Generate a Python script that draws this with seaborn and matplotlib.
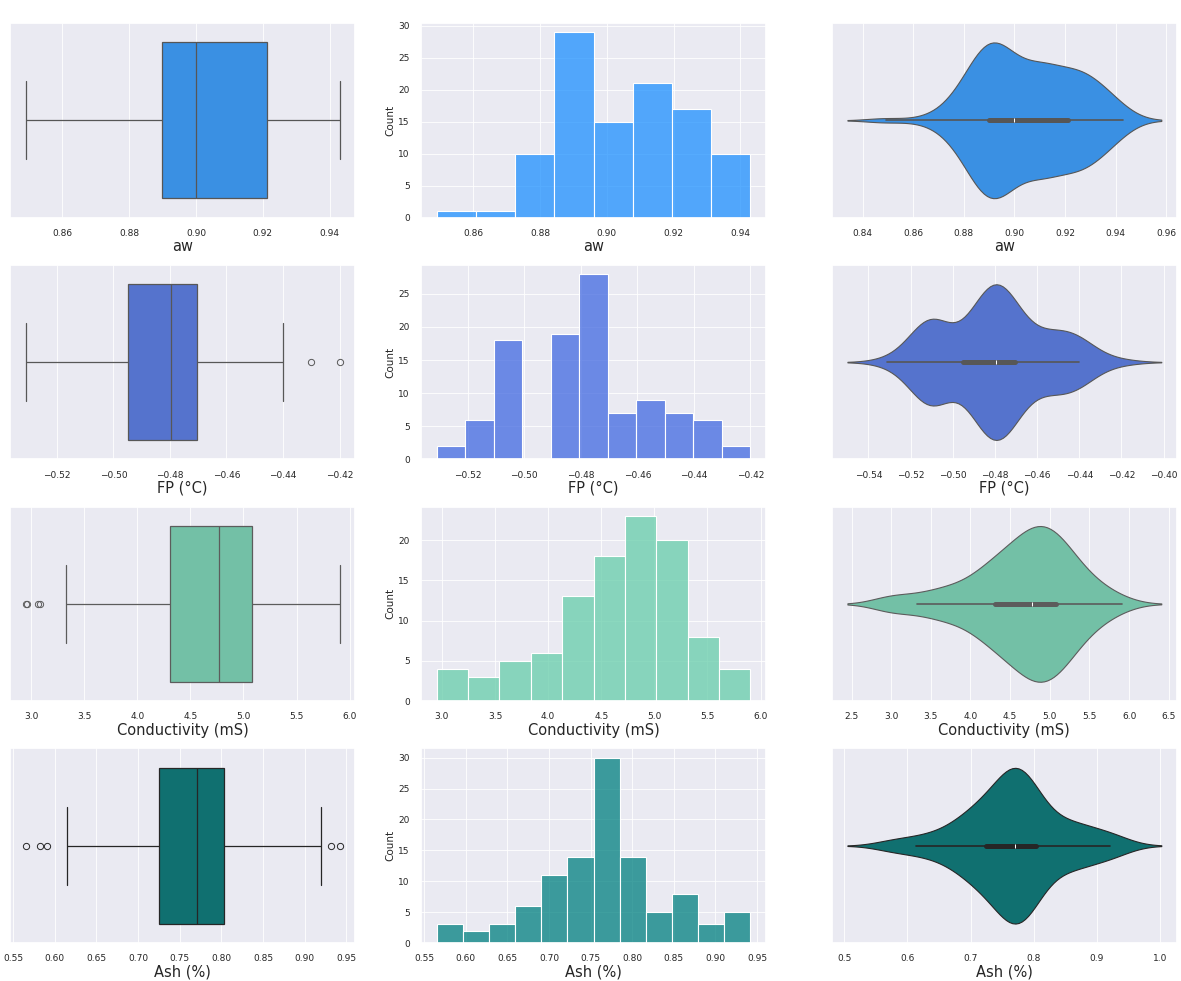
import matplotlib
matplotlib.use("Agg")
import matplotlib.pyplot as plt
import seaborn as sns

# Water activity measurements
aw = [
    0.849, 0.866,
    0.873, 0.875, 0.877, 0.878, 0.879, 0.880, 0.881, 0.882, 0.883, 0.884,
    0.885, 0.885, 0.886, 0.886, 0.887, 0.887, 0.887, 0.888, 0.888, 0.888,
    0.889, 0.889, 0.889, 0.889, 0.890, 0.890, 0.890, 0.891, 0.891, 0.892,
    0.892, 0.892, 0.893, 0.893, 0.893, 0.894, 0.894, 0.895, 0.895,
    0.8965, 0.897, 0.8975, 0.898, 0.8985, 0.899, 0.8995, 0.8995, 0.900, 0.900,
    0.900, 0.900, 0.903, 0.905, 0.907,
    0.908, 0.908, 0.909, 0.909, 0.909, 0.910, 0.910, 0.910, 0.911, 0.911,
    0.911, 0.912, 0.912, 0.913, 0.913, 0.914, 0.915, 0.916, 0.917, 0.918, 0.919,
    0.921, 0.922, 0.922, 0.923, 0.923, 0.924, 0.924, 0.925, 0.925, 0.926,
    0.926, 0.927, 0.927, 0.928, 0.929, 0.930, 0.931,
    0.932, 0.933, 0.934, 0.935, 0.936, 0.937, 0.938, 0.939, 0.941, 0.943,
]

# Freezing point (°C)
fp = [
    -0.531, -0.524,
    -0.519, -0.517, -0.516, -0.514, -0.513, -0.512,
    -0.5105, -0.510, -0.510, -0.510, -0.510, -0.5095, -0.5095, -0.5095,
    -0.509, -0.509, -0.509, -0.509, -0.5085, -0.5085, -0.5085,
    -0.508, -0.508, -0.508,
    -0.4905, -0.4905, -0.490, -0.490, -0.4895, -0.4895, -0.489, -0.489,
    -0.488, -0.488, -0.487, -0.487, -0.486, -0.486, -0.485, -0.484, -0.483,
    -0.482, -0.481,
    -0.480, -0.480, -0.480, -0.480, -0.480, -0.4798, -0.4797, -0.4796,
    -0.479, -0.479, -0.479, -0.479, -0.478, -0.478, -0.478, -0.477, -0.477,
    -0.477, -0.476, -0.476, -0.476, -0.475, -0.475, -0.474, -0.474, -0.473,
    -0.472, -0.471,
    -0.4704, -0.4704, -0.4703, -0.4703, -0.4703, -0.4703, -0.462,
    -0.460, -0.459, -0.458, -0.457, -0.456, -0.455, -0.454, -0.453, -0.451,
    -0.450, -0.449, -0.447, -0.446, -0.444, -0.443, -0.441,
    -0.440, -0.440, -0.440, -0.440, -0.4399, -0.4399,
    -0.430, -0.420,
]

# Electrical conductivity (mS)
conductivity = [
    2.95, 2.96, 3.07, 3.08,
    3.33, 3.42, 3.50,
    3.58, 3.64, 3.70, 3.75, 3.80,
    3.87, 3.93, 3.98, 4.03, 4.08, 4.12,
    4.15, 4.18, 4.21, 4.23, 4.25, 4.27, 4.29, 4.30, 4.31, 4.34, 4.37, 4.39, 4.42,
    4.44, 4.46, 4.48, 4.50, 4.52, 4.54, 4.56, 4.58, 4.60, 4.61, 4.63, 4.64,
    4.66, 4.67, 4.68, 4.70, 4.71, 4.72,
    4.74, 4.76, 4.77, 4.77, 4.78, 4.80, 4.81, 4.82, 4.84, 4.85, 4.86, 4.87,
    4.88, 4.90, 4.91, 4.92, 4.94, 4.95, 4.96, 4.98, 4.99, 5.00, 5.01,
    5.03, 5.04, 5.05, 5.06, 5.07, 5.08, 5.08, 5.10, 5.12, 5.13, 5.15, 5.17,
    5.18, 5.20, 5.22, 5.23, 5.25, 5.27, 5.29, 5.31,
    5.34, 5.38, 5.42, 5.45, 5.49, 5.52, 5.55, 5.59,
    5.66, 5.74, 5.83, 5.905,
]

# Ash content (%)
ash = [
    0.565, 0.582, 0.590,
    0.614, 0.622,
    0.632, 0.641, 0.652,
    0.662, 0.668, 0.673, 0.678, 0.683, 0.688,
    0.692, 0.695, 0.698, 0.701, 0.704, 0.707, 0.710, 0.713, 0.715, 0.718, 0.720,
    0.723, 0.725, 0.728, 0.730, 0.733, 0.735, 0.738, 0.740, 0.742, 0.744,
    0.746, 0.748, 0.750, 0.752,
    0.754, 0.756, 0.758, 0.760, 0.762, 0.763, 0.764, 0.765, 0.766, 0.767,
    0.768, 0.769, 0.770, 0.771, 0.772, 0.773, 0.774, 0.775, 0.776, 0.777,
    0.778, 0.779, 0.780, 0.780, 0.781, 0.782, 0.782, 0.783, 0.784, 0.784,
    0.786, 0.788, 0.790, 0.792, 0.794, 0.796, 0.798, 0.801, 0.803, 0.805,
    0.808, 0.810, 0.812, 0.815,
    0.820, 0.826, 0.833, 0.839, 0.845,
    0.850, 0.854, 0.858, 0.862, 0.866, 0.870, 0.873, 0.877,
    0.885, 0.895, 0.905,
    0.913, 0.917, 0.920, 0.932, 0.942,
]

variables = [aw, fp, conductivity, ash]
labels = ["aw", "FP (°C)", "Conductivity (mS)", "Ash (%)"]
colors = ["dodgerblue", "royalblue", "mediumaquamarine", "teal"]
hist_bins = [8, 11, 10, 12]

sns.set_theme(style="darkgrid", rc={"grid.linewidth": 0.6})
plt.rcParams["font.family"] = ["DejaVu Sans"]

fig, axes = plt.subplots(4, 3, figsize=(11.81, 9.81), dpi=100)
fig.subplots_adjust(left=0.0085, right=0.9966, bottom=0.0387, top=0.9766,
                    wspace=0.19, hspace=0.242)

TICK_SIZE = 6.5
XLABEL_SIZE = 10.5
YLABEL_SIZE = 7.5

for row, (values, label, color, nbins) in enumerate(zip(variables, labels, colors, hist_bins)):
    ax_box, ax_hist, ax_vio = axes[row]

    sns.boxplot(x=values, color=color, linewidth=0.9, fliersize=4.5,
                flierprops={"markeredgewidth": 0.7}, ax=ax_box)
    sns.histplot(x=values, color=color, bins=nbins, linewidth=0.8, ax=ax_hist)
    sns.violinplot(x=values, color=color, linewidth=0.8, ax=ax_vio)

    for ax in (ax_box, ax_hist, ax_vio):
        ax.set_xlabel(label, fontsize=XLABEL_SIZE, labelpad=1)
        ax.tick_params(axis="both", labelsize=TICK_SIZE, pad=2)
    ax_hist.set_ylabel("Count", fontsize=YLABEL_SIZE, labelpad=2)

fig.savefig("out.png", dpi=100)
